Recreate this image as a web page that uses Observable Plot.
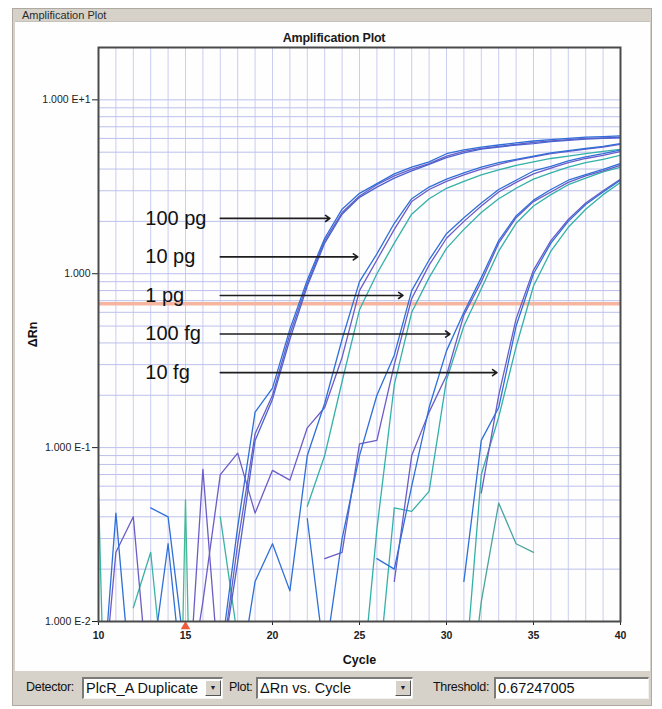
<!DOCTYPE html>
<html>
<head>
<meta charset="utf-8">
<script src="https://cdn.jsdelivr.net/npm/d3@7"></script>
<script src="https://cdn.jsdelivr.net/npm/@observablehq/plot@0.6"></script>
<style>
  body { margin: 0; background: #fff; }
  #win { position: relative; width: 662px; height: 709px; background: #fff; overflow: hidden;
         font-family: "Liberation Sans", Arial, sans-serif; color: #1a1a1a; }
  #frame { position: absolute; left: 12px; top: 8px; width: 640px; height: 698px; background: #d6d2ca;
           border: 1px solid #aeaaa2; box-sizing: border-box; }
  #wtitle { position: absolute; left: 22px; top: 9px; font-size: 11px; color: #2a2a2a; }
  #inner { position: absolute; left: 15px; top: 21px; width: 635px; height: 650px; background: #fefefe;
           border-top: 1px solid #c6c2ba; box-sizing: border-box; }
  #ptitle { position: absolute; left: 0; width: 668px; top: 31px; text-align: center; font-weight: bold; font-size: 12.5px; letter-spacing: -0.2px; }
  #chart { position: absolute; left: 0; top: 20px; }
  #chart svg { overflow: visible; }
  #chart g[aria-label="x-axis label"] text, #chart g[aria-label="y-axis label"] text { font-weight: bold; font-size: 12.5px; fill: #111; }
  #chart g[aria-label="x-axis tick label"] text { font-weight: bold; }
  .lbl { position: absolute; top: 680px; font-size: 12.5px; color: #111; letter-spacing: -0.3px; }
  .box { position: absolute; top: 677px; height: 22px; background: #fff; box-sizing: border-box;
         border-top: 2px solid #7c7a76; border-left: 2px solid #7c7a76; border-right: 1px solid #f4f2ee; border-bottom: 1px solid #f4f2ee;
         font-size: 14.5px; line-height: 18px; padding-left: 2px; white-space: nowrap; color: #111; }
  .btn { position: absolute; top: 1px; right: 1px; width: 16px; height: 16px; background: #d6d2ca; box-sizing: border-box;
         border-top: 1px solid #fff; border-left: 1px solid #fff; border-right: 1px solid #555; border-bottom: 1px solid #555;
         font-size: 7px; line-height: 14px; text-align: center; color: #222; }
</style>
</head>
<body>
<div id="win">
  <div id="frame"></div>
  <div id="wtitle">Amplification Plot</div>
  <div id="inner"></div>
  <div id="ptitle">Amplification Plot</div>
  <div id="chart"></div>
  <div class="lbl" style="left:26px">Detector:</div>
  <div class="box" style="left:82px;width:141px">PlcR_A Duplicate<div class="btn">▼</div></div>
  <div class="lbl" style="left:229px">Plot:</div>
  <div class="box" style="left:256px;width:157px">ΔRn vs. Cycle<div class="btn">▼</div></div>
  <div class="lbl" style="left:433px">Threshold:</div>
  <div class="box" style="left:494px;width:155px">0.67247005</div>
</div>
<script>
// ---- axes / ticks ----
const cycles = [10,11,12,13,14,15,16,17,18,19,20,21,22,23,24,25,26,27,28,29,30,31,32,33,34,35,36,37,38,39,40];
const xTicks = [10, 15, 20, 25, 30, 35, 40];
const yTicks = [0.01, 0.1, 1, 10];
const yTickLabels = ["1.000 E-2", "1.000 E-1", "1.000", "1.000 E+1"];
const yGrid = [0.02,0.03,0.04,0.05,0.06,0.07,0.08,0.09,0.1,0.2,0.3,0.4,0.5,0.6,0.7,0.8,0.9,1,2,3,4,5,6,7,8,9,10,20];
const yDomain = [0.01, 20];
const threshold = [0.67247005];
const baselineMarker = [15];

// ---- annotations ----
const annotLabels = ["100 pg", "10 pg", "1 pg", "100 fg", "10 fg"];
const arrowFrom = [17, 17, 17, 17, 17];
const arrowTo = [23.3, 24.9, 27.5, 30.2, 32.9];
const arrowLevel = [2.08, 1.25, 0.75, 0.45, 0.27];

// ---- series: start cycle + ΔRn values for consecutive cycles ----
const seriesNames = ["N4","N5","N6","N7","N8","B3","C3","D3","E3","N2","A2","B1","C2","D2","E2","N1","N3","A1","A3","B2","C1","D1","E1"];
const seriesColor = {
  N4:"#3bb3a3", N5:"#3bb3a3", N6:"#45b89a", N7:"#3bb3a3", N8:"#4aa59a",
  B3:"#34b1a6", C3:"#34b1a6", D3:"#34b1a6", E3:"#34b1a6",
  N2:"#6b5cc6", A2:"#6b5cc6", B1:"#6b5cc6", C2:"#6b5cc6", D2:"#6b5cc6", E2:"#6b5cc6",
  N1:"#2f6fd8", N3:"#2f6fd8", A1:"#2f6fd8", A3:"#4b62cf", B2:"#2f6fd8", C1:"#2f6fd8", D1:"#2f6fd8", E1:"#2f6fd8"
};
const seriesStart = {
  A1:17, A2:17, A3:17, B1:15, B2:18, B3:22, C1:22, C2:23, C3:25, D1:26, D2:27, D3:26, E1:31, E2:32, E3:31,
  N1:10, N2:10, N3:13, N4:12, N5:10, N6:14, N7:17, N8:31
};
// 100 pg
const A1 = [0.006,0.035,0.16,0.22,0.48,0.92,1.6,2.35,2.9,3.3,3.75,4.1,4.4,4.9,5.15,5.35,5.5,5.65,5.8,5.9,6.0,6.1,6.15,6.2];
const A2 = [0.005,0.028,0.12,0.2,0.45,0.88,1.55,2.25,2.8,3.25,3.65,4.0,4.3,4.75,5.05,5.25,5.4,5.55,5.7,5.8,5.9,6.0,6.05,6.1];
const A3 = [0.005,0.022,0.11,0.19,0.42,0.85,1.5,2.2,2.75,3.15,3.55,3.9,4.25,4.65,4.95,5.2,5.35,5.5,5.6,5.75,5.85,5.95,6.0,6.05];
// 10 pg
const B1 = [0.003,0.013,0.07,0.093,0.042,0.074,0.065,0.13,0.17,0.33,0.8,1.2,1.8,2.6,3.05,3.4,3.7,4.0,4.25,4.5,4.7,4.9,5.05,5.2,5.35,5.55];
const B2 = [0.004,0.017,0.028,0.015,0.09,0.18,0.42,0.9,1.3,1.95,2.7,3.15,3.5,3.8,4.1,4.35,4.55,4.75,4.95,5.1,5.25,5.4,5.6];
const B3 = [0.046,0.09,0.24,0.62,1.0,1.5,2.2,2.7,3.1,3.4,3.7,3.95,4.2,4.4,4.6,4.75,4.9,5.05,5.2];
// 1 pg
const C1 = [0.039,0.006,0.03,0.09,0.2,0.34,0.8,1.2,1.7,2.1,2.55,3.05,3.45,3.9,4.15,4.45,4.7,4.9,5.15];
const C2 = [0.023,0.025,0.105,0.11,0.3,0.72,1.12,1.6,2.0,2.45,2.95,3.35,3.75,4.05,4.35,4.6,4.8,5.05];
const C3 = [0.003,0.034,0.23,0.6,0.95,1.4,1.8,2.25,2.7,3.1,3.5,3.8,4.1,4.35,4.55,4.8];
// 100 fg
const D1 = [0.023,0.02,0.06,0.17,0.36,0.6,0.95,1.55,2.15,2.65,3.05,3.45,3.72,3.98,4.3];
const D2 = [0.017,0.09,0.16,0.26,0.58,0.9,1.5,2.1,2.6,2.95,3.35,3.65,3.9,4.2];
const D3 = [0.004,0.045,0.043,0.056,0.245,0.5,0.82,1.35,1.95,2.45,2.85,3.25,3.55,3.85,4.1];
// 10 fg
const E1 = [0.017,0.11,0.17,0.5,1.0,1.5,2.0,2.5,2.95,3.45];
const E2 = [0.055,0.2,0.55,1.05,1.55,2.05,2.55,3.0,3.5];
const E3 = [0.004,0.07,0.15,0.38,0.85,1.35,1.85,2.35,2.85,3.35];
// baseline noise fragments
const N1 = [0.002,0.042,0.003,0.005,0.028,0.003];
const N2 = [0.002,0.025,0.04,0.003,0.005,0.002,0.075,0.004];
const N3 = [0.045,0.04,0.006];
const N4 = [0.012,0.025,0.0025];
const N5 = [0.055,0.00001];
const N6 = [0.000001,0.05,0.000001];
const N7 = [0.04,0.008];
const N8 = [0.002,0.013,0.048,0.028,0.025];

const seriesValues = {A1,A2,A3,B1,B2,B3,C1,C2,C3,D1,D2,D3,E1,E2,E3,N1,N2,N3,N4,N5,N6,N7,N8};

function rowsFor(name) {
  const vals = seriesValues[name];
  const i0 = cycles.indexOf(seriesStart[name]);
  return vals.map((v, i) => ({cycle: cycles[i0 + i], value: v}));
}

const annots = annotLabels.map((t, i) => ({label: t, from: arrowFrom[i], to: arrowTo[i], level: arrowLevel[i]}));

const lineMarks = seriesNames.map(name =>
  Plot.line(rowsFor(name), {x: "cycle", y: "value", stroke: seriesColor[name], strokeWidth: 1.3, clip: true})
);

const chart = Plot.plot({
  width: 662,
  height: 651,
  marginLeft: 98,
  marginRight: 42,
  marginTop: 27,
  marginBottom: 50,
  style: {fontFamily: "'Liberation Sans', Arial, sans-serif", fontSize: "10.5px", color: "#222", background: "transparent", overflow: "visible"},
  x: {domain: [10, 40], ticks: xTicks, tickSize: 4, tickPadding: 6, label: "Cycle", labelArrow: "none", labelAnchor: "center", labelOffset: 42},
  y: {type: "log", domain: yDomain, ticks: yTicks, tickSize: 6, tickPadding: 2,
      tickFormat: d => yTickLabels[yTicks.indexOf(d)], label: "ΔRn", labelArrow: "none", labelAnchor: "center", labelOffset: 70},
  marks: [
    Plot.gridX(cycles, {stroke: "#cbcdf1", strokeOpacity: 1, strokeWidth: 1}),
    Plot.gridY(yGrid, {stroke: "#bcc1ec", strokeOpacity: 1, strokeWidth: 1}),
    Plot.ruleY(threshold, {stroke: "#f6b59e", strokeWidth: 3.5}),
    ...lineMarks,
    Plot.arrow(annots, {x1: "from", x2: "to", y1: "level", y2: "level", stroke: "#1e1e1e", strokeWidth: 1.6, headLength: 5, headAngle: 70}),
    Plot.text(annots, {x: "from", y: "level", text: "label", textAnchor: "start", dx: -75, fontSize: 20, fill: "#111", fontFamily: "'Liberation Sans', Arial, sans-serif"}),
    Plot.dot(baselineMarker, {x: d => d, frameAnchor: "bottom", dy: 5, symbol: "triangle", r: 3.5, fill: "#f05a3c", stroke: "none"}),
    Plot.frame({stroke: "#4a4a4a", strokeWidth: 2})
  ]
});
document.getElementById("chart").appendChild(chart);
</script>
</body>
</html>
